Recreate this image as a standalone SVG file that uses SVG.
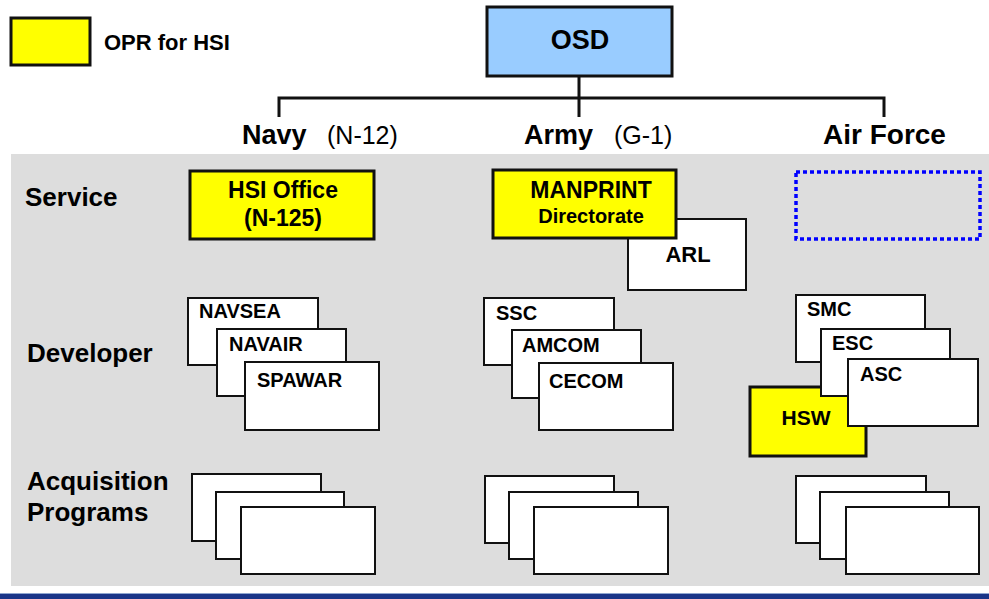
<svg xmlns="http://www.w3.org/2000/svg" width="989" height="599" viewBox="0 0 989 599">
<style>
text{font-family:"Liberation Sans",Arial,sans-serif;fill:#000}
.b{font-weight:bold}
.box{fill:#fff;stroke:#111;stroke-width:2}
.opr{fill:#ffff00;stroke:#111;stroke-width:3}
.conn{fill:none;stroke:#111;stroke-width:3}
.mid{text-anchor:middle}
</style>
<rect x="11" y="154" width="978" height="432" fill="#dddddd"/>
<rect x="0" y="593" width="989" height="6" fill="#1a3588"/>
<rect x="0" y="593" width="989" height="1" fill="#8fa6d0"/>

<g id="legend">
<rect class="opr" x="11" y="18" width="79" height="47"/>
<text class="b" x="104" y="50" font-size="22">OPR for HSI</text>
</g>

<g id="osd">
<rect x="487" y="7" width="185" height="69" fill="#99ccff" stroke="#111" stroke-width="3"/>
<text class="b mid" x="580" y="49" font-size="27">OSD</text>
</g>

<g id="connectors">
<path class="conn" d="M579 76V117M279 117V98H884V117"/>
</g>

<g id="navy">
<text x="242" y="144" font-size="27" class="b">Navy</text>
<text x="327" y="144" font-size="25">(N-12)</text>
</g>
<g id="army">
<text x="524" y="144" font-size="27" class="b">Army</text>
<text x="614" y="144" font-size="25">(G-1)</text>
</g>
<g id="airforce">
<text x="823" y="144" font-size="28" class="b">Air Force</text>
</g>

<g id="row-labels">
<text class="b" x="25" y="206" font-size="26">Service</text>
<text class="b" x="27" y="362" font-size="26">Developer</text>
<text class="b" x="27" y="490" font-size="26">Acquisition</text>
<text class="b" x="27" y="521" font-size="26">Programs</text>
</g>

<g id="hsi-office">
<rect class="opr" x="190" y="171" width="184" height="68"/>
<text class="b mid" x="283" y="198" font-size="23">HSI Office</text>
<text class="b mid" x="283" y="226" font-size="23">(N-125)</text>
</g>

<g id="arl">
<rect class="box" x="628" y="219" width="118" height="71" stroke-width="3"/>
<text class="b mid" x="688" y="262" font-size="22">ARL</text>
</g>
<g id="manprint">
<rect class="opr" x="493" y="170" width="183" height="68"/>
<text class="b mid" x="591" y="198" font-size="23">MANPRINT</text>
<text class="b mid" x="591" y="223" font-size="20">Directorate</text>
</g>

<g id="af-service">
<rect x="796" y="172" width="184" height="67" fill="none" stroke="#0000ff" stroke-width="3.5" stroke-dasharray="4 3"/>
</g>

<g id="navsea"><rect class="box" x="188" y="298" width="130" height="67"/><text class="b" x="199" y="318" font-size="20">NAVSEA</text></g>
<g id="navair"><rect class="box" x="217" y="329" width="129" height="67"/><text class="b" x="229" y="351" font-size="20">NAVAIR</text></g>
<g id="spawar"><rect class="box" x="245" y="362" width="134" height="68"/><text class="b" x="257" y="387" font-size="20">SPAWAR</text></g>

<g id="ssc"><rect class="box" x="484" y="298" width="130" height="67"/><text class="b" x="496" y="320" font-size="20">SSC</text></g>
<g id="amcom"><rect class="box" x="512" y="330" width="129" height="68"/><text class="b" x="522" y="352" font-size="20">AMCOM</text></g>
<g id="cecom"><rect class="box" x="539" y="363" width="134" height="67"/><text class="b" x="549" y="388" font-size="20">CECOM</text></g>

<g id="hsw"><rect class="opr" x="750" y="387" width="116" height="69"/><text class="b mid" x="806" y="425" font-size="21">HSW</text></g>
<g id="smc"><rect class="box" x="796" y="295" width="129" height="67"/><text class="b" x="807" y="316" font-size="20">SMC</text></g>
<g id="esc"><rect class="box" x="821" y="329" width="129" height="67"/><text class="b" x="832" y="350" font-size="20">ESC</text></g>
<g id="asc"><rect class="box" x="848" y="359" width="130" height="67"/><text class="b" x="860" y="381" font-size="20">ASC</text></g>

<g id="navy-programs">
<rect class="box" x="192" y="474" width="129" height="67"/>
<rect class="box" x="216" y="492" width="128" height="67"/>
<rect class="box" x="241" y="507" width="134" height="67"/>
</g>
<g id="army-programs">
<rect class="box" x="485" y="476" width="129" height="67"/>
<rect class="box" x="509" y="492" width="129" height="67"/>
<rect class="box" x="534" y="507" width="134" height="67"/>
</g>
<g id="af-programs">
<rect class="box" x="796" y="476" width="130" height="67"/>
<rect class="box" x="820" y="492" width="129" height="67"/>
<rect class="box" x="846" y="507" width="133" height="67"/>
</g>
</svg>
